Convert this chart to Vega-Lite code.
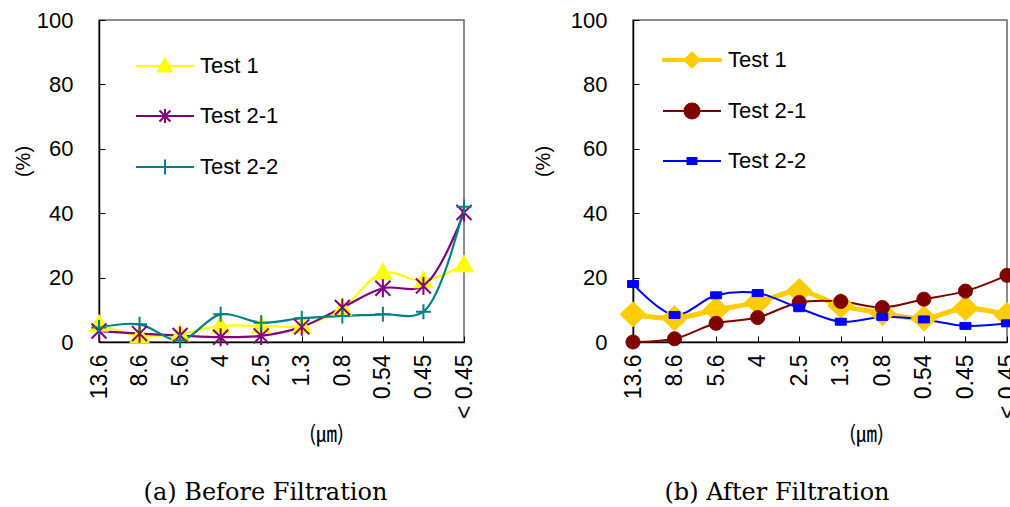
{
  "$schema": "https://vega.github.io/schema/vega-lite/v6.json",
  "padding": {"left": 12, "top": 8, "right": -8, "bottom": 0},
  "background": "white",
  "datasets": {
    "before": [
      {"size": "13.6", "series": "Test 1", "value": 5.5},
      {"size": "8.6", "series": "Test 1", "value": 2},
      {"size": "5.6", "series": "Test 1", "value": 2.5},
      {"size": "4", "series": "Test 1", "value": 5},
      {"size": "2.5", "series": "Test 1", "value": 5},
      {"size": "1.3", "series": "Test 1", "value": 5},
      {"size": "0.8", "series": "Test 1", "value": 10.5},
      {"size": "0.54", "series": "Test 1", "value": 21.5},
      {"size": "0.45", "series": "Test 1", "value": 19},
      {"size": "< 0.45", "series": "Test 1", "value": 24},
      {"size": "13.6", "series": "Test 2-1", "value": 3.4},
      {"size": "8.6", "series": "Test 2-1", "value": 2.6},
      {"size": "5.6", "series": "Test 2-1", "value": 2},
      {"size": "4", "series": "Test 2-1", "value": 1.5},
      {"size": "2.5", "series": "Test 2-1", "value": 1.9},
      {"size": "1.3", "series": "Test 2-1", "value": 4.7},
      {"size": "0.8", "series": "Test 2-1", "value": 10.7},
      {"size": "0.54", "series": "Test 2-1", "value": 16.7},
      {"size": "0.45", "series": "Test 2-1", "value": 17.4},
      {"size": "< 0.45", "series": "Test 2-1", "value": 40.2},
      {"size": "13.6", "series": "Test 2-2", "value": 4.5},
      {"size": "8.6", "series": "Test 2-2", "value": 5.5},
      {"size": "5.6", "series": "Test 2-2", "value": 0.5},
      {"size": "4", "series": "Test 2-2", "value": 8.6},
      {"size": "2.5", "series": "Test 2-2", "value": 6},
      {"size": "1.3", "series": "Test 2-2", "value": 7.4},
      {"size": "0.8", "series": "Test 2-2", "value": 8.1},
      {"size": "0.54", "series": "Test 2-2", "value": 8.6},
      {"size": "0.45", "series": "Test 2-2", "value": 9.4},
      {"size": "< 0.45", "series": "Test 2-2", "value": 42}
    ],
    "after": [
      {"size": "13.6", "series": "Test 1", "value": 8.6},
      {"size": "8.6", "series": "Test 1", "value": 7.4},
      {"size": "5.6", "series": "Test 1", "value": 10},
      {"size": "4", "series": "Test 1", "value": 12.3},
      {"size": "2.5", "series": "Test 1", "value": 15.8},
      {"size": "1.3", "series": "Test 1", "value": 11.3},
      {"size": "0.8", "series": "Test 1", "value": 9},
      {"size": "0.54", "series": "Test 1", "value": 7.3},
      {"size": "0.45", "series": "Test 1", "value": 10.5},
      {"size": "< 0.45", "series": "Test 1", "value": 8.4},
      {"size": "13.6", "series": "Test 2-1", "value": 0},
      {"size": "8.6", "series": "Test 2-1", "value": 1},
      {"size": "5.6", "series": "Test 2-1", "value": 5.8},
      {"size": "4", "series": "Test 2-1", "value": 7.6},
      {"size": "2.5", "series": "Test 2-1", "value": 12.3},
      {"size": "1.3", "series": "Test 2-1", "value": 12.6},
      {"size": "0.8", "series": "Test 2-1", "value": 10.7},
      {"size": "0.54", "series": "Test 2-1", "value": 13.3},
      {"size": "0.45", "series": "Test 2-1", "value": 15.8},
      {"size": "< 0.45", "series": "Test 2-1", "value": 20.7},
      {"size": "13.6", "series": "Test 2-2", "value": 18},
      {"size": "8.6", "series": "Test 2-2", "value": 8.4},
      {"size": "5.6", "series": "Test 2-2", "value": 14.5},
      {"size": "4", "series": "Test 2-2", "value": 15.2},
      {"size": "2.5", "series": "Test 2-2", "value": 10.5},
      {"size": "1.3", "series": "Test 2-2", "value": 6.3},
      {"size": "0.8", "series": "Test 2-2", "value": 7.8},
      {"size": "0.54", "series": "Test 2-2", "value": 7},
      {"size": "0.45", "series": "Test 2-2", "value": 5},
      {"size": "< 0.45", "series": "Test 2-2", "value": 5.8}
    ]
  },
  "spacing": 54,
  "resolve": {
    "scale": {"color": "independent", "shape": "independent", "stroke": "independent", "fill": "independent", "x": "independent", "y": "independent"},
    "legend": {"color": "independent"}
  },
  "hconcat": [
    {
      "width": 365,
      "height": 322,
      "data": {"name": "before"},
      "title": {"text": "(a) Before Filtration", "orient": "bottom", "font": "DejaVu Serif", "fontSize": 24, "fontWeight": "normal", "color": "#000", "dx": -16, "offset": 37},
      "encoding": {
        "x": {
          "field": "size", "type": "ordinal",
          "scale": {"type": "point", "padding": 0, "domain": ["13.6", "8.6", "5.6", "4", "2.5", "1.3", "0.8", "0.54", "0.45", "< 0.45"]},
          "axis": {"title": "(㎛)", "labelAngle": -90, "titleX": 227, "titleY": 92, "titleBaseline": "middle"}
        },
        "y": {
          "field": "value", "type": "quantitative",
          "scale": {"domain": [0, 100], "nice": false},
          "axis": {"title": "(%)", "values": [0, 20, 40, 60, 80, 100], "titleX": -76, "titleY": 141, "titleBaseline": "middle", "titleAlign": "center", "titleAngle": -90}
        }
      },
      "layer": [
        {
          "mark": {"type": "line", "interpolate": "catmull-rom", "strokeWidth": 2.2},
          "encoding": {
            "color": {
              "field": "series", "type": "nominal",
              "scale": {"domain": ["Test 1", "Test 2-1", "Test 2-2"], "range": ["#ffff00", "#800080", "#008080"]},
              "legend": {
                "title": null, "orient": "none", "legendX": 55, "legendY": 35,
                "symbolSize": 100, "labelOffset": 24, "rowPadding": 28, "padding": 0,
                "labelFont": "Liberation Sans", "labelFontSize": 22, "labelColor": "#000",
                "encode": {
                  "symbols": {
                    "update": {
                      "shape": {"signal": "datum.value === 'Test 1' ? 'M-5.8,0H5.8M0,-1.5L1.4,1.1L-1.4,1.1Z' : datum.value === 'Test 2-1' ? 'M-5.8,0H5.8M-1.1,-1.1L1.1,1.1M-1.1,1.1L1.1,-1.1M0,-1.4V1.4' : 'M-5.8,0H5.8M0,-1.5V1.5'"},
                      "fill": {"signal": "datum.value === 'Test 1' ? '#ffff00' : datum.value === 'Test 2-1' ? '#800080' : '#008080'"},
                      "stroke": {"signal": "datum.value === 'Test 1' ? '#ffff00' : datum.value === 'Test 2-1' ? '#800080' : '#008080'"},
                      "strokeWidth": {"value": 2},
                      "opacity": {"value": 1},
                      "fillOpacity": {"value": 1}
                    }
                  }
                }
              }
            }
          }
        },
        {
          "mark": {"type": "point", "size": 100, "strokeWidth": 2, "opacity": 1},
          "encoding": {
            "shape": {
              "field": "series", "type": "nominal",
              "scale": {"domain": ["Test 2-2", "Test 2-1", "Test 1"], "range": ["M-1.5,0H1.5M0,-1.5V1.5", "M-1.5,-1.5L1.5,1.5M-1.5,1.5L1.5,-1.5M0,-1.8V1.8", "M0,-1.7L1.7,1.3L-1.7,1.3Z"]},
              "legend": null
            },
            "fill": {
              "field": "series", "type": "nominal",
              "scale": {"domain": ["Test 2-2", "Test 2-1", "Test 1"], "range": ["#008080", "#800080", "#ffff00"]},
              "legend": null
            },
            "stroke": {
              "field": "series", "type": "nominal",
              "scale": {"domain": ["Test 2-2", "Test 2-1", "Test 1"], "range": ["#008080", "#800080", "#ffff00"]},
              "legend": null
            }
          }
        }
      ]
    },
    {
      "width": 374,
      "height": 322,
      "data": {"name": "after"},
      "title": {"text": "(b) After Filtration", "orient": "bottom", "font": "DejaVu Serif", "fontSize": 24, "fontWeight": "normal", "color": "#000", "dx": -43, "offset": 37},
      "encoding": {
        "x": {
          "field": "size", "type": "ordinal",
          "scale": {"type": "point", "padding": 0, "domain": ["13.6", "8.6", "5.6", "4", "2.5", "1.3", "0.8", "0.54", "0.45", "< 0.45"]},
          "axis": {"title": "(㎛)", "labelAngle": -90, "titleX": 233, "titleY": 92, "titleBaseline": "middle"}
        },
        "y": {
          "field": "value", "type": "quantitative",
          "scale": {"domain": [0, 100], "nice": false},
          "axis": {"title": "(%)", "values": [0, 20, 40, 60, 80, 100], "titleX": -90, "titleY": 141, "titleBaseline": "middle", "titleAlign": "center", "titleAngle": -90}
        }
      },
      "layer": [
        {
          "mark": {"type": "line", "interpolate": "catmull-rom"},
          "encoding": {
            "strokeWidth": {"condition": {"test": "datum.series === 'Test 1'", "value": 5}, "value": 2},
            "color": {
              "field": "series", "type": "nominal",
              "scale": {"domain": ["Test 1", "Test 2-1", "Test 2-2"], "range": ["#ffcc00", "#800000", "#0000ff"]},
              "legend": {
                "title": null, "orient": "none", "legendX": 48, "legendY": 29,
                "symbolSize": 100, "labelOffset": 25, "rowPadding": 27, "padding": 0,
                "labelFont": "Liberation Sans", "labelFontSize": 22, "labelColor": "#000",
                "encode": {
                  "symbols": {
                    "update": {
                      "shape": {"signal": "datum.value === 'Test 1' ? 'M-5.8,-0.2H5.8V0.2H-5.8ZM0,-1.5L1.5,0L0,1.5L-1.5,0Z' : datum.value === 'Test 2-1' ? 'M-5.8,0H5.8M1.5,0C1.5,0.83,0.83,1.5,0,1.5C-0.83,1.5,-1.5,0.83,-1.5,0C-1.5,-0.83,-0.83,-1.5,0,-1.5C0.83,-1.5,1.5,-0.83,1.5,0Z' : 'M-5.8,0H5.8M-0.9,-0.6H0.9V0.6H-0.9Z'"},
                      "fill": {"signal": "datum.value === 'Test 1' ? '#ffcc00' : datum.value === 'Test 2-1' ? '#800000' : '#0000ff'"},
                      "stroke": {"signal": "datum.value === 'Test 1' ? '#ffcc00' : datum.value === 'Test 2-1' ? '#800000' : '#0000ff'"},
                      "strokeWidth": {"value": 2},
                      "opacity": {"value": 1},
                      "fillOpacity": {"value": 1}
                    }
                  }
                }
              }
            }
          }
        },
        {
          "mark": {"type": "point", "size": 100, "strokeWidth": 1, "opacity": 1},
          "encoding": {
            "shape": {
              "field": "series", "type": "nominal",
              "scale": {"domain": ["Test 2-2", "Test 2-1", "Test 1"], "range": ["M-1.1,-0.7H1.1V0.7H-1.1Z", "M1.4,0C1.4,0.77,0.77,1.4,0,1.4C-0.77,1.4,-1.4,0.77,-1.4,0C-1.4,-0.77,-0.77,-1.4,0,-1.4C0.77,-1.4,1.4,-0.77,1.4,0Z", "M0,-2.5L2.6,0L0,2.5L-2.6,0Z"]},
              "legend": null
            },
            "fill": {
              "field": "series", "type": "nominal",
              "scale": {"domain": ["Test 2-2", "Test 2-1", "Test 1"], "range": ["#0000ff", "#800000", "#ffcc00"]},
              "legend": null
            },
            "stroke": {
              "field": "series", "type": "nominal",
              "scale": {"domain": ["Test 2-2", "Test 2-1", "Test 1"], "range": ["#0000ff", "#800000", "#ffcc00"]},
              "legend": null
            }
          }
        }
      ]
    }
  ],
  "config": {
    "font": "Liberation Sans",
    "view": {"stroke": "#666", "strokeWidth": 1.5},
    "axis": {
      "grid": false,
      "domainColor": "#000",
      "domainWidth": 1.5,
      "tickColor": "#000",
      "tickWidth": 1,
      "tickSize": -6,
      "labelColor": "#000",
      "labelFont": "Liberation Sans",
      "titleColor": "#000",
      "titleFontWeight": "normal"
    },
    "axisX": {"labelFontSize": 23, "labelPadding": 18, "titleFont": "Noto Sans CJK KR", "titleFontSize": 21},
    "axisY": {"labelFontSize": 22, "labelPadding": 32, "titleFont": "Liberation Sans", "titleFontSize": 20}
  }
}
